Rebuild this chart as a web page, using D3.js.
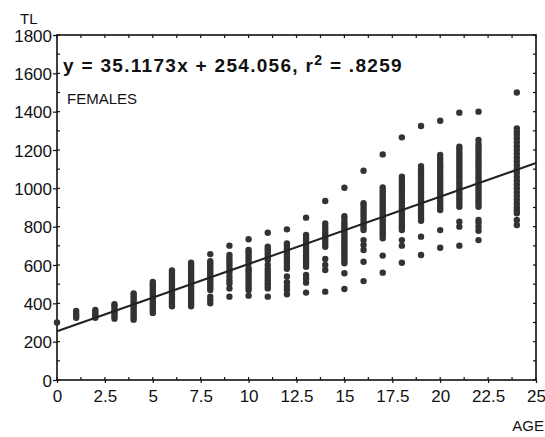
<!DOCTYPE html>
<html>
<head>
<meta charset="utf-8">
<script src="https://cdn.jsdelivr.net/npm/d3@7"></script>
<style>
  body { margin: 0; background: #fff; }
  text { font-family: "Liberation Sans", Arial, sans-serif; fill: #111; }
</style>
</head>
<body>
<div id="chart"></div>
<script>
// Ages (x) and total length readings (TL) per age column
var ages = [0, 1, 2, 3, 4, 5, 6, 7, 8, 9, 10, 11, 12, 13, 14, 15, 16, 17, 18, 19, 20, 21, 22, 24];
var tlByAge = [
  [300],
  [325, 335, 345, 360],
  [325, 335, 345, 355, 365],
  [320, 332, 345, 358, 370, 385, 395],
  [315, 328, 340, 352, 365, 378, 390, 402, 415, 428, 440, 452],
  [350, 362, 375, 388, 400, 412, 425, 438, 450, 462, 475, 488, 500, 512],
  [385, 397, 410, 422, 435, 448, 460, 472, 485, 498, 510, 522, 535, 548, 560, 572],
  [385, 397, 410, 422, 435, 448, 460, 472, 485, 498, 510, 522, 535, 548, 560, 572, 585, 598, 612],
  [400, 418, 435, 470, 482, 495, 508, 520, 532, 545, 558, 570, 582, 595, 608, 620, 657],
  [435, 478, 504, 520, 539, 560, 574, 590, 605, 620, 635, 652, 701],
  [440, 470, 485, 500, 515, 530, 545, 560, 572, 583, 609, 625, 640, 655, 668, 678, 734],
  [435, 478, 490, 505, 520, 535, 550, 565, 580, 600, 626, 640, 655, 668, 682, 695, 768],
  [447, 470, 490, 510, 540, 580, 595, 610, 625, 640, 655, 670, 685, 700, 713, 786],
  [456, 508, 528, 548, 591, 605, 620, 635, 650, 665, 680, 695, 710, 725, 740, 757, 847],
  [461, 574, 600, 631, 695, 710, 725, 740, 755, 770, 785, 800, 817, 934],
  [475, 557, 609, 622, 635, 648, 660, 672, 685, 698, 710, 722, 735, 748, 760, 772, 785, 798, 810, 822, 840, 855, 1003],
  [516, 617, 678, 705, 730, 782, 795, 808, 820, 835, 850, 865, 880, 895, 910, 922, 1092],
  [560, 649, 739, 752, 765, 778, 790, 802, 815, 828, 840, 852, 865, 878, 890, 902, 915, 928, 940, 952, 965, 978, 990, 1005, 1177],
  [612, 701, 730, 782, 795, 808, 822, 835, 850, 865, 880, 895, 910, 925, 940, 955, 970, 985, 1000, 1015, 1030, 1045, 1061, 1266],
  [652, 748, 831, 845, 860, 875, 890, 905, 920, 935, 950, 965, 980, 995, 1010, 1025, 1040, 1055, 1070, 1085, 1100, 1116, 1325],
  [690, 782, 887, 900, 915, 930, 945, 960, 975, 990, 1005, 1020, 1035, 1050, 1065, 1080, 1095, 1110, 1125, 1140, 1157, 1174, 1353],
  [701, 800, 826, 904, 920, 935, 950, 965, 980, 995, 1010, 1025, 1040, 1055, 1070, 1085, 1100, 1115, 1130, 1145, 1160, 1175, 1190, 1205, 1217, 1395],
  [730, 779, 800, 820, 835, 904, 918, 932, 946, 960, 975, 990, 1005, 1020, 1035, 1050, 1065, 1080, 1095, 1110, 1125, 1140, 1155, 1170, 1185, 1200, 1215, 1230, 1252, 1400],
  [809, 835, 870, 885, 900, 920, 940, 960, 980, 1000, 1020, 1040, 1060, 1080, 1100, 1120, 1140, 1160, 1180, 1200, 1220, 1240, 1260, 1280, 1295, 1313, 1500]
];

// Regression fit and tick labels
var slope = 35.1173;
var intercept = 254.056;
var xTicks = [0, 2.5, 5, 7.5, 10, 12.5, 15, 17.5, 20, 22.5, 25];
var yTicks = [0, 200, 400, 600, 800, 1000, 1200, 1400, 1600, 1800];

var svgWidth = 545;
var svgHeight = 437;
var margin = { top: 35, right: 9, bottom: 57, left: 57 };
var chartWidth = svgWidth - margin.left - margin.right;
var chartHeight = svgHeight - margin.top - margin.bottom;

var svg = d3.select("#chart")
  .append("svg")
  .attr("width", svgWidth)
  .attr("height", svgHeight)
  .style("background", "#fff");

var chartGroup = svg.append("g")
  .attr("transform", `translate(${margin.left}, ${margin.top})`);

var xScale = d3.scaleLinear().domain([0, 25]).range([0, chartWidth]);
var yScale = d3.scaleLinear().domain([0, 1800]).range([chartHeight, 0]);

// frame
chartGroup.append("rect")
  .attr("width", chartWidth)
  .attr("height", chartHeight)
  .attr("fill", "none")
  .attr("stroke", "#111")
  .attr("stroke-width", 1.6);

// minor ticks (inward) on all four sides
var xMinor = d3.range(0, 25.01, 1.25);
var yMinor = d3.range(0, 1801, 100);
var tickGroup = chartGroup.append("g").attr("stroke", "#111").attr("stroke-width", 1.2);
xMinor.forEach(function(v) {
  tickGroup.append("line").attr("x1", xScale(v)).attr("x2", xScale(v))
    .attr("y1", chartHeight).attr("y2", chartHeight - 3);
  tickGroup.append("line").attr("x1", xScale(v)).attr("x2", xScale(v))
    .attr("y1", 0).attr("y2", 3);
});
yMinor.forEach(function(v) {
  tickGroup.append("line").attr("x1", 0).attr("x2", 3)
    .attr("y1", yScale(v)).attr("y2", yScale(v));
  tickGroup.append("line").attr("x1", chartWidth).attr("x2", chartWidth - 3)
    .attr("y1", yScale(v)).attr("y2", yScale(v));
});

// labelled axes
var bottomAxis = d3.axisBottom(xScale).tickValues(xTicks).tickSize(3)
  .tickFormat(d => String(d));
var leftAxis = d3.axisLeft(yScale).tickValues(yTicks).tickSize(4)
  .tickFormat(d => String(d));

var gx = chartGroup.append("g")
  .attr("transform", `translate(0, ${chartHeight})`)
  .call(bottomAxis);
var gy = chartGroup.append("g").call(leftAxis);

[gx, gy].forEach(function(g) {
  g.select(".domain").remove();
  g.selectAll(".tick line").attr("stroke", "#111").attr("stroke-width", 1.2);
  g.selectAll(".tick text")
    .style("font-family", "'Liberation Sans', Arial, sans-serif")
    .style("font-size", "17px")
    .attr("fill", "#111");
});
gx.selectAll(".tick text").attr("dy", "0.95em");
gy.selectAll(".tick text").attr("x", -5).attr("dy", "0.36em");

// points
var points = [];
ages.forEach(function(a, i) {
  tlByAge[i].forEach(function(t) { points.push({ age: a, tl: t }); });
});

chartGroup.selectAll(".dot")
  .data(points)
  .enter()
  .append("circle")
  .attr("class", "dot")
  .attr("cx", d => xScale(d.age))
  .attr("cy", d => yScale(d.tl))
  .attr("r", 3.2)
  .attr("fill", "#333");

// regression line
chartGroup.append("line")
  .attr("x1", xScale(0))
  .attr("y1", yScale(intercept))
  .attr("x2", xScale(25))
  .attr("y2", yScale(slope * 25 + intercept))
  .attr("stroke", "#222")
  .attr("stroke-width", 2);

// annotations
var eq = svg.append("text")
  .attr("x", 63)
  .attr("y", 72)
  .style("font-size", "19px")
  .style("font-weight", "bold")
  .style("letter-spacing", "1.3px");
eq.append("tspan").text("y = 35.1173x + 254.056, r");
eq.append("tspan").attr("dy", -7).style("font-size", "14px").text("2");
eq.append("tspan").attr("dy", 7).text(" = .8259");

svg.append("text")
  .attr("x", 67)
  .attr("y", 104)
  .style("font-size", "15px")
  .text("FEMALES");

svg.append("text")
  .attr("x", 20)
  .attr("y", 24)
  .style("font-size", "15px")
  .text("TL");

svg.append("text")
  .attr("x", 544)
  .attr("y", 431)
  .attr("text-anchor", "end")
  .style("font-size", "15px")
  .text("AGE");
</script>
</body>
</html>
